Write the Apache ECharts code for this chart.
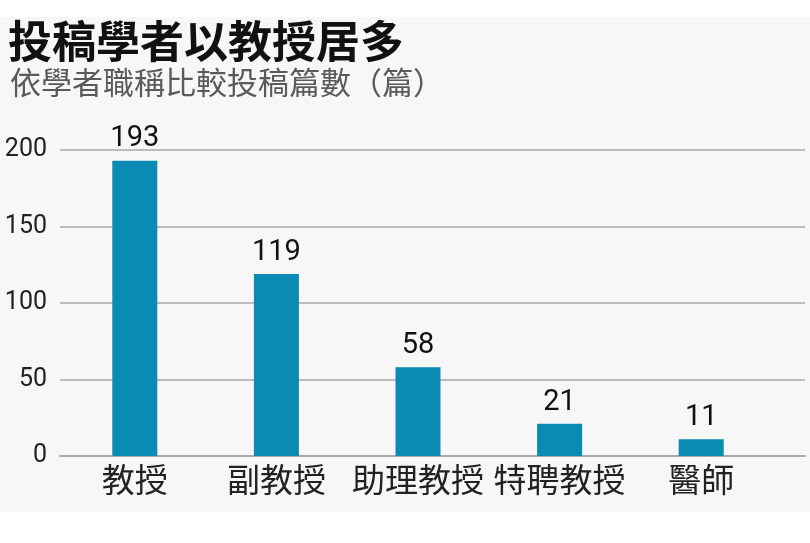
<!DOCTYPE html>
<html><head><meta charset="utf-8">
<script src="https://cdn.jsdelivr.net/npm/echarts@6/dist/echarts.min.js"></script>
<style>
html,body{margin:0;padding:0;background:#fff;}
#panel{position:absolute;left:0;top:17px;width:810px;height:495px;background:#f7f7f7;}
#chart{position:absolute;left:0;top:0;width:810px;height:543px;}
</style></head>
<body>
<div id="panel"></div>
<div id="chart"></div>
<script>
const titleText = '投稿學者以教授居多';
const subtitleText = '依學者職稱比較投稿篇數（篇）';
const categories = ['教授', '副教授', '助理教授', '特聘教授', '醫師'];
const values = [193, 119, 58, 21, 11];
const yMin = 0, yMax = 200, yInterval = 50;

const numFont = '"Liberation Sans Narrow", Roboto, "Noto Sans", sans-serif';
const cjkFont = '"Noto Sans CJK TC", "Noto Sans CJK SC", sans-serif';

const chart = echarts.init(document.getElementById('chart'), null, {renderer: 'canvas'});
chart.setOption({
  backgroundColor: 'transparent',
  animation: false,
  title: [
    {text: titleText, left: 3, top: 14,
     textStyle: {fontFamily: cjkFont, fontSize: 44, fontWeight: 'bold', color: '#111'}},
    {text: subtitleText, left: 5, top: 62,
     textStyle: {fontFamily: cjkFont, fontSize: 31, fontWeight: 'normal', color: '#5a5a5a'}}
  ],
  grid: [
    {left: 64, right: 38, top: 150, bottom: 87, containLabel: false},
    {left: 60, right: 5, top: 150, bottom: 87, containLabel: false}
  ],
  xAxis: [
    {type: 'category', gridIndex: 0, data: categories,
     axisLine: {show: false}, axisTick: {show: false},
     axisLabel: {interval: 0, fontFamily: cjkFont, fontSize: 33, color: '#222', margin: 7}},
    {type: 'category', gridIndex: 1, data: [''], show: true,
     axisLine: {show: true, lineStyle: {color: '#a9a9a9', width: 2}},
     axisTick: {show: false}, axisLabel: {show: false}}
  ],
  yAxis: [
    {type: 'value', gridIndex: 0, min: yMin, max: yMax, interval: yInterval,
     show: false, splitLine: {show: false}},
    {type: 'value', gridIndex: 1, min: yMin, max: yMax, interval: yInterval,
     axisLine: {show: false}, axisTick: {show: false},
     axisLabel: {fontFamily: numFont, fontSize: 25, color: '#222', margin: 13, padding: [0, 0, 7, 0]},
     splitLine: {show: true, lineStyle: {color: '#a9a9a9', width: 1.5}}}
  ],
  series: [{
    type: 'bar', xAxisIndex: 0, yAxisIndex: 0,
    data: values, barWidth: 45,
    itemStyle: {color: '#0a8bb3'},
    label: {show: true, position: 'top', distance: 7,
      fontFamily: numFont, fontSize: 29, color: '#111'}
  }]
});
</script>
</body></html>
